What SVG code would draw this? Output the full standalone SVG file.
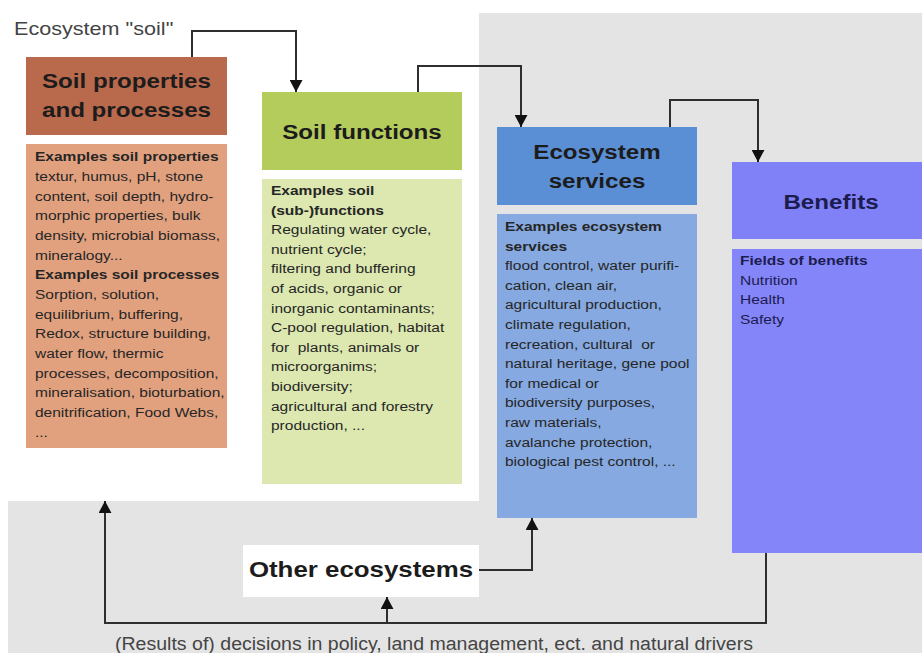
<svg xmlns="http://www.w3.org/2000/svg" width="922" height="653" viewBox="0 0 922 653">
<style>
  text { font-family: "Liberation Sans", Arial, sans-serif; }
  .title { font-size: 21px; font-weight: bold; fill: #1c1c1c; text-anchor: middle; }
  .body { font-size: 13.5px; fill: #262626; }
  .b { font-weight: bold; }
  .navy { fill: #1c1c4e; }
  .conn { fill: none; stroke: #2e2e2e; stroke-width: 2; }
</style>
<defs>
  <marker id="arrow" markerUnits="userSpaceOnUse" markerWidth="14" markerHeight="13" refX="13" refY="7" orient="auto" viewBox="0 0 14 14">
    <path d="M0,0 L13,7 L0,14 Z" fill="#111"/>
  </marker>
</defs>
<rect x="0" y="0" width="922" height="653" fill="#ffffff"/>
<rect x="8" y="13" width="914" height="640" fill="#e4e4e4"/>
<rect id="ecosystem-soil-panel" x="8" y="13" width="471" height="488" fill="#ffffff"/>
<g transform="translate(14,35) scale(1.2,1)">
  <text x="0" y="0" font-size="18" fill="#444">Ecosystem "soil"</text>
</g>

<g id="soil-properties">
  <rect x="26" y="57" width="201" height="78" fill="#b9694c"/>
  <g transform="translate(126.5,0) scale(1.15,1)">
    <text class="title" x="0" y="88">Soil properties</text>
    <text class="title" x="0" y="117">and processes</text>
  </g>
  <rect x="26" y="144" width="201" height="304" fill="#e2a17e"/>
  <g transform="translate(35,0) scale(1.15,1)">
    <text class="body">
      <tspan class="b" x="0" y="161.5">Examples soil properties</tspan>
      <tspan x="0" y="181.2">textur, humus, pH, stone</tspan>
      <tspan x="0" y="200.8">content, soil depth, hydro-</tspan>
      <tspan x="0" y="220.5">morphic properties, bulk</tspan>
      <tspan x="0" y="240.1">density, microbial biomass,</tspan>
      <tspan x="0" y="259.8">mineralogy...</tspan>
      <tspan class="b" x="0" y="279.4">Examples soil processes</tspan>
      <tspan x="0" y="299.1">Sorption, solution,</tspan>
      <tspan x="0" y="318.7">equilibrium, buffering,</tspan>
      <tspan x="0" y="338.4">Redox, structure building,</tspan>
      <tspan x="0" y="358">water flow, thermic</tspan>
      <tspan x="0" y="377.7">processes, decomposition,</tspan>
      <tspan x="0" y="397.3">mineralisation, bioturbation,</tspan>
      <tspan x="0" y="417">denitrification, Food Webs,</tspan>
      <tspan x="0" y="437">...</tspan>
    </text>
  </g>
</g>

<g id="soil-functions">
  <rect x="262" y="92" width="200" height="78" fill="#b4cc5c"/>
  <g transform="translate(362,0) scale(1.15,1)">
    <text class="title" x="0" y="139">Soil functions</text>
  </g>
  <rect x="262" y="179" width="200" height="305" fill="#dce8b0"/>
  <g transform="translate(271,0) scale(1.15,1)">
    <text class="body">
      <tspan class="b" x="0" y="195">Examples soil</tspan>
      <tspan class="b" x="0" y="214.6">(sub-)functions</tspan>
      <tspan x="0" y="234.2">Regulating water cycle,</tspan>
      <tspan x="0" y="253.8">nutrient cycle;</tspan>
      <tspan x="0" y="273.4">filtering and buffering</tspan>
      <tspan x="0" y="293">of acids, organic or</tspan>
      <tspan x="0" y="312.6">inorganic contaminants;</tspan>
      <tspan x="0" y="332.2">C-pool regulation, habitat</tspan>
      <tspan x="0" y="351.8" xml:space="preserve">for  plants, animals or</tspan>
      <tspan x="0" y="371.4">microorganims;</tspan>
      <tspan x="0" y="391">biodiversity;</tspan>
      <tspan x="0" y="410.6">agricultural and forestry</tspan>
      <tspan x="0" y="430.2">production, ...</tspan>
    </text>
  </g>
</g>

<g id="ecosystem-services">
  <rect x="497" y="127" width="200" height="78" fill="#5a8ed5"/>
  <g transform="translate(597,0) scale(1.15,1)">
    <text class="title" x="0" y="159">Ecosystem</text>
    <text class="title" x="0" y="188">services</text>
  </g>
  <rect x="497" y="214" width="200" height="304" fill="#85a9e0"/>
  <g transform="translate(505,0) scale(1.15,1)">
    <text class="body">
      <tspan class="b" x="0" y="231">Examples ecosystem</tspan>
      <tspan class="b" x="0" y="250.6">services</tspan>
      <tspan x="0" y="270.2">flood control, water purifi-</tspan>
      <tspan x="0" y="289.8">cation, clean air,</tspan>
      <tspan x="0" y="309.4">agricultural production,</tspan>
      <tspan x="0" y="329">climate regulation,</tspan>
      <tspan x="0" y="348.6" xml:space="preserve">recreation, cultural  or</tspan>
      <tspan x="0" y="368.2">natural heritage, gene pool</tspan>
      <tspan x="0" y="387.8">for medical or</tspan>
      <tspan x="0" y="407.4">biodiversity purposes,</tspan>
      <tspan x="0" y="427">raw materials,</tspan>
      <tspan x="0" y="446.6">avalanche protection,</tspan>
      <tspan x="0" y="466.2">biological pest control, ...</tspan>
    </text>
  </g>
</g>

<g id="benefits">
  <rect x="732" y="162" width="190" height="77" fill="#8181f7"/>
  <g transform="translate(831,0) scale(1.15,1)">
    <text class="title navy" x="0" y="209">Benefits</text>
  </g>
  <rect x="732" y="249" width="190" height="304" fill="#8585fa"/>
  <g transform="translate(740,0) scale(1.15,1)">
    <text class="body navy">
      <tspan class="b" x="0" y="265">Fields of benefits</tspan>
      <tspan x="0" y="284.6">Nutrition</tspan>
      <tspan x="0" y="304.2">Health</tspan>
      <tspan x="0" y="323.8">Safety</tspan>
    </text>
  </g>
</g>

<g id="other-ecosystems">
  <rect x="243" y="545" width="236" height="52" fill="#ffffff"/>
  <g transform="translate(361,577) scale(1.15,1)">
    <text class="title" x="0" y="0" font-size="22.5" fill="#2a2a2a" style="font-size:22.5px">Other ecosystems</text>
  </g>
</g>

<g id="drivers">
  <text x="115" y="650" font-size="18" fill="#444" textLength="638" lengthAdjust="spacingAndGlyphs">(Results of) decisions in policy, land management, ect. and natural drivers</text>
</g>

<g id="connectors">
  <path class="conn" d="M192,57 V31 H296 V92" marker-end="url(#arrow)"/>
  <path class="conn" d="M418,92 V66 H521 V127" marker-end="url(#arrow)"/>
  <path class="conn" d="M670,127 V100 H758 V162" marker-end="url(#arrow)"/>
  <path class="conn" d="M479,570 H532 V518" marker-end="url(#arrow)"/>
  <path class="conn" d="M766,553 V623 H105 V501" marker-end="url(#arrow)"/>
  <path class="conn" d="M387,623 V597" marker-end="url(#arrow)"/>
</g>
</svg>
